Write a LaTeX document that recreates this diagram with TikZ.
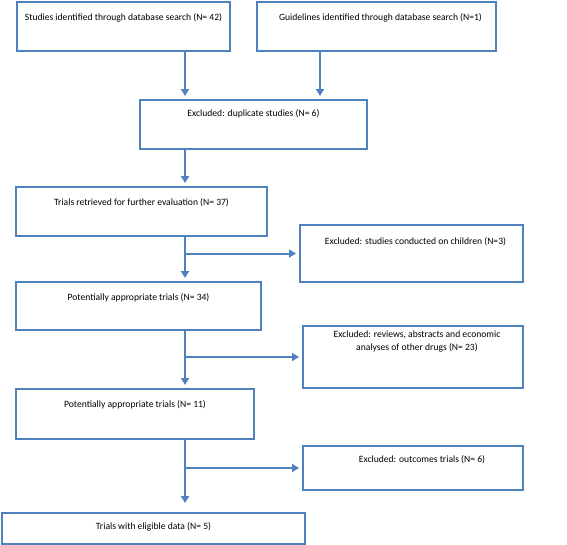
\documentclass[tikz,border=0pt]{standalone}
\usepackage{fontspec}
\setmainfont{Carlito}
\usetikzlibrary{arrows.meta}
\definecolor{flowblue}{HTML}{4F81BD}
\tikzset{
  box/.style={draw=flowblue, line width=2pt, anchor=north west, inner sep=0pt},
  lbl/.style={anchor=north, yshift=-12pt, inner sep=0pt, align=center,
    font=\fontsize{9.6}{13}\selectfont},
  arr/.style={draw=flowblue, line width=2pt, shorten >=3pt,
    -{Triangle[width=8pt,length=7pt]}}
}
\begin{document}
\begin{tikzpicture}[x=1pt,y=-1pt]
		\useasboundingbox(0,0)rectangle(567,544);
		\node[box,minimum width=213pt,minimum height=49pt,label={[lbl]north:Studies identified through database search (N= 42)}](b1)at(16,1){};
		\node[box,minimum width=239pt,minimum height=49pt,label={[lbl,xshift=4pt]north:Guidelines identified through database search (N=1)}](b2)at(256,1){};
		\node[box,minimum width=227pt,minimum height=49pt,label={[lbl,yshift=2pt]north:Excluded: duplicate studies (N= 6)}](b3)at(139,99){};
		\node[box,minimum width=251pt,minimum height=49pt,label={[lbl]north:Trials retrieved for further evaluation (N= 37)}](b4)at(15,186){};
		\node[box,minimum width=223pt,minimum height=57pt,label={[lbl,yshift=-1pt,xshift=4pt]north:Excluded: studies conducted on children (N=3)}](b5)at(299,224){};
		\node[box,minimum width=245pt,minimum height=48pt,label={[lbl]north:Potentially appropriate trials (N= 34)}](b6)at(15,281){};
		\node[box,minimum width=220pt,minimum height=62pt,label={[lbl,yshift=6pt,xshift=4pt]north:Excluded: reviews, abstracts and economic\\analyses of other drugs (N= 23)}](b7)at(302,325){};
		\node[box,minimum width=238pt,minimum height=50pt,label={[lbl]north:Potentially appropriate trials (N= 11)}](b8)at(15,388){};
		\node[box,minimum width=220pt,minimum height=44pt,label={[lbl,yshift=2pt,xshift=9pt]north:Excluded: outcomes trials (N= 6)}](b9)at(302,445){};
		\node[box,minimum width=303pt,minimum height=31pt,label={[lbl,yshift=2pt]north:Trials with eligible data (N= 5)}](b10)at(1,512){};
		\coordinate(spine)at(185,0);
		\coordinate(side)at(320,0);
		\draw[arr](b1.south-|spine)--(b3.north-|spine);
		\draw[arr](b2.south-|side)--(b3.north-|side);
		\draw[arr](b3.south-|spine)--(b4.north-|spine);
		\draw[arr](b4.south-|spine)--(b6.north-|spine);
		\draw[arr](spine|-b5.west)--(b5.west);
		\draw[arr](b6.south-|spine)--(b8.north-|spine);
		\draw[arr](spine|-b7.west)--(b7.west);
		\draw[arr,shorten >=9pt](b8.south-|spine)--(b10.north-|spine);
		\draw[arr](spine|-b9.west)--(b9.west);
	\end{tikzpicture}
\end{document}
